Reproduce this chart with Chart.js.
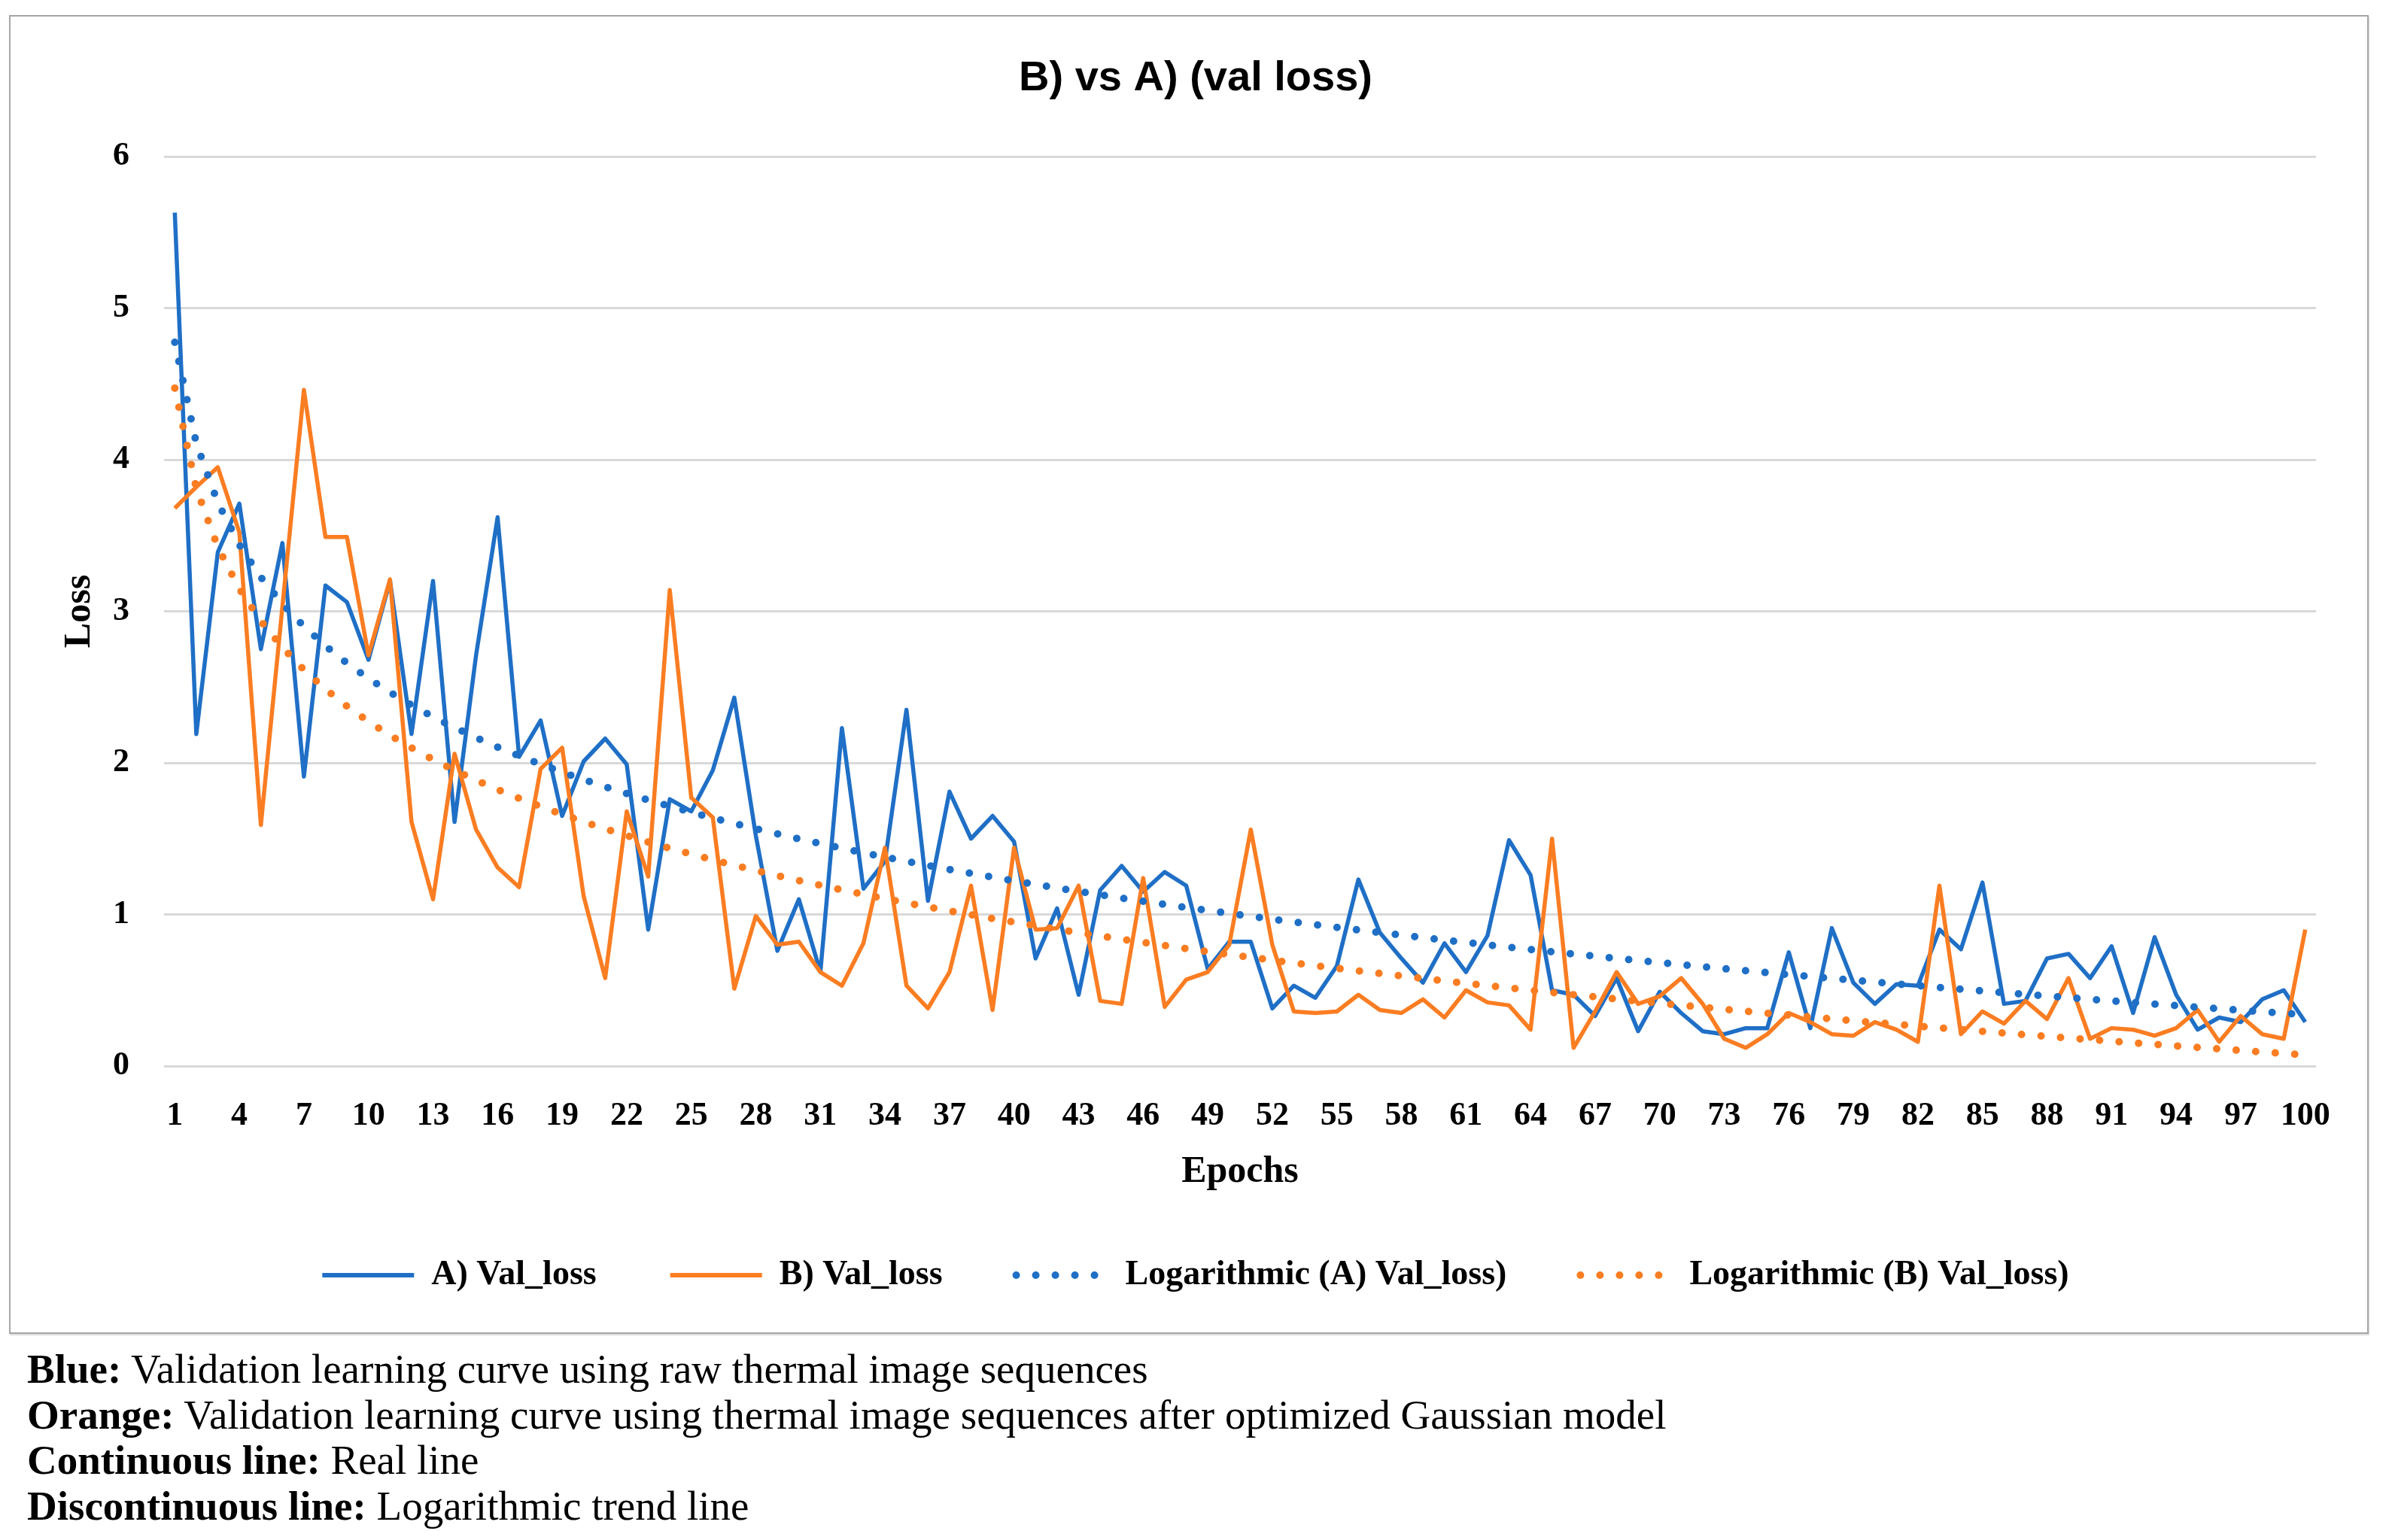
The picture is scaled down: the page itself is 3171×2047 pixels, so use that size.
<!DOCTYPE html>
<html>
<head>
<meta charset="utf-8">
<script src="https://cdn.jsdelivr.net/npm/chart.js@4.4.1/dist/chart.umd.min.js"></script>
<style>
  html, body { margin: 0; padding: 0; background: #fff; }
  body { width: 3171px; height: 2047px; position: relative; overflow: hidden; }
  #box {
    position: absolute; left: 12px; top: 20px;
    width: 3132px; height: 1749px;
    border: 2px solid #a6a6a6;
    box-shadow: 1px 2px 2px rgba(0,0,0,0.15);
  }
  #caption {
    position: absolute; left: 36px; top: 1790px;
    font-family: "Liberation Serif", serif; font-size: 55px; line-height: 60.6px;
    color: #000; white-space: nowrap;
  }
</style>
</head>
<body>
<div id="box"><canvas id="lossChart"></canvas></div>
<div id="caption">
  <div><b>Blue:</b> Validation learning curve using raw thermal image sequences</div>
  <div><b>Orange:</b> Validation learning curve using thermal image sequences after optimized Gaussian model</div>
  <div><b>Continuous line:</b> Real line</div>
  <div><b>Discontinuous line:</b> Logarithmic trend line</div>
</div>
<script>
const epochs = [
  1, 2, 3, 4, 5, 6, 7, 8, 9, 10, 11, 12, 13, 14, 15, 16, 17, 18, 19, 20,
  21, 22, 23, 24, 25, 26, 27, 28, 29, 30, 31, 32, 33, 34, 35, 36, 37, 38, 39, 40,
  41, 42, 43, 44, 45, 46, 47, 48, 49, 50, 51, 52, 53, 54, 55, 56, 57, 58, 59, 60,
  61, 62, 63, 64, 65, 66, 67, 68, 69, 70, 71, 72, 73, 74, 75, 76, 77, 78, 79, 80,
  81, 82, 83, 84, 85, 86, 87, 88, 89, 90, 91, 92, 93, 94, 95, 96, 97, 98, 99, 100
];

// A) raw thermal sequences
const valLossA = [
  5.63, 2.19, 3.39, 3.71, 2.75, 3.45, 1.91, 3.17, 3.06, 2.68,
  3.20, 2.19, 3.20, 1.61, 2.71, 3.62, 2.04, 2.28, 1.65, 2.01,
  2.16, 1.99, 0.90, 1.76, 1.68, 1.95, 2.43, 1.52, 0.76, 1.10,
  0.62, 2.23, 1.17, 1.35, 2.35, 1.09, 1.81, 1.50, 1.65, 1.48,
  0.71, 1.04, 0.47, 1.16, 1.32, 1.15, 1.28, 1.19, 0.64, 0.82,
  0.82, 0.38, 0.53, 0.45, 0.66, 1.23, 0.88, 0.71, 0.55, 0.81,
  0.62, 0.86, 1.49, 1.26, 0.50, 0.47, 0.33, 0.58, 0.23, 0.49,
  0.35, 0.23, 0.21, 0.25, 0.25, 0.75, 0.25, 0.91, 0.55, 0.41,
  0.54, 0.53, 0.90, 0.77, 1.21, 0.41, 0.43, 0.71, 0.74, 0.58,
  0.79, 0.35, 0.85, 0.47, 0.24, 0.32, 0.29, 0.44, 0.50, 0.29
];

// B) after optimized Gaussian model
const valLossB = [
  3.68, 3.82, 3.95, 3.52, 1.59, 3.03, 4.46, 3.49, 3.49, 2.71,
  3.21, 1.61, 1.10, 2.06, 1.56, 1.31, 1.18, 1.96, 2.10, 1.12,
  0.58, 1.68, 1.25, 3.14, 1.77, 1.64, 0.51, 0.99, 0.80, 0.82,
  0.62, 0.53, 0.81, 1.44, 0.53, 0.38, 0.62, 1.19, 0.37, 1.44,
  0.90, 0.91, 1.19, 0.43, 0.41, 1.24, 0.39, 0.57, 0.62, 0.80,
  1.56, 0.80, 0.36, 0.35, 0.36, 0.47, 0.37, 0.35, 0.44, 0.32,
  0.50, 0.42, 0.40, 0.24, 1.50, 0.12, 0.36, 0.62, 0.41, 0.46,
  0.58, 0.41, 0.18, 0.12, 0.21, 0.35, 0.29, 0.21, 0.20, 0.29,
  0.24, 0.16, 1.19, 0.21, 0.36, 0.28, 0.43, 0.31, 0.58, 0.18,
  0.25, 0.24, 0.20, 0.25, 0.37, 0.16, 0.33, 0.21, 0.18, 0.90
];

const yTicks = [0, 1, 2, 3, 4, 5, 6];

const blue = '#1f6fc6';
const orange = '#fa7d22';

// logarithmic trend line, least squares fit of y = a*ln(x) + b
function logTrend(xs, ys) {
  const lx = xs.map(x => Math.log(x));
  const n = xs.length;
  const mx = lx.reduce((s, v) => s + v, 0) / n;
  const my = ys.reduce((s, v) => s + v, 0) / n;
  let sxy = 0, sxx = 0;
  for (let i = 0; i < n; i++) {
    sxy += (lx[i] - mx) * (ys[i] - my);
    sxx += (lx[i] - mx) * (lx[i] - mx);
  }
  const a = sxy / sxx;
  const b = my - a * mx;
  return lx.map(v => a * v + b);
}

const serif = '"Liberation Serif", "Times New Roman", serif';
const dots = [0, 26];

new Chart('lossChart', {
  type: 'line',
  data: {
    labels: epochs,
    datasets: [
      { label: 'A) Val_loss', data: valLossA, borderColor: blue, borderWidth: 5.5, order: 3 },
      { label: 'B) Val_loss', data: valLossB, borderColor: orange, borderWidth: 5.5, order: 2 },
      { label: 'Logarithmic (A) Val_loss)', data: logTrend(epochs, valLossA), borderColor: blue,
        borderWidth: 10, borderDash: dots, borderCapStyle: 'round', order: 1 },
      { label: 'Logarithmic (B) Val_loss)', data: logTrend(epochs, valLossB), borderColor: orange,
        borderWidth: 10, borderDash: dots, borderCapStyle: 'round', order: 0 }
    ]
  },
  options: {
    responsive: true,
    maintainAspectRatio: false,
    devicePixelRatio: 1,
    animation: false,
    layout: { padding: { left: 86, right: 68, top: 0, bottom: 43 } },
    elements: {
      line: { tension: 0, fill: false, borderJoinStyle: 'round' },
      point: { radius: 0, hoverRadius: 0 }
    },
    plugins: {
      tooltip: { enabled: false },
      title: {
        display: true,
        text: 'B) vs A) (val loss)',
        color: '#000',
        font: { family: '"Liberation Sans Narrow", "Liberation Sans", sans-serif', size: 56, weight: 'bold' },
        padding: { top: 49.4, bottom: 69.4 }
      },
      legend: {
        position: 'bottom',
        labels: {
          usePointStyle: true,
          pointStyleWidth: 122,
          padding: 98,
          color: '#000',
          font: { family: serif, size: 46, weight: 'bold' },
          generateLabels(chart) {
            return chart.data.datasets.map((ds, i) => ({
              text: ds.label,
              datasetIndex: i,
              pointStyle: 'line',
              strokeStyle: ds.borderColor,
              fillStyle: ds.borderColor,
              lineWidth: ds.borderDash ? 10 : 6,
              lineDash: ds.borderDash || [],
              lineCap: ds.borderDash ? 'round' : 'butt',
              fontColor: '#000',
              hidden: false
            }));
          }
        }
      }
    },
    scales: {
      x: {
        type: 'category',
        offset: true,
        afterFit(scale) { scale.height = 157; },
        grid: { display: false, drawTicks: false },
        border: { display: false },
        ticks: {
          autoSkip: false,
          maxRotation: 0,
          padding: 40,
          color: '#000',
          font: { family: serif, size: 44, weight: 'bold' },
          callback(value, index) { return index % 3 === 0 ? this.getLabelForValue(value) : ''; }
        },
        title: {
          display: true,
          text: 'Epochs',
          color: '#000',
          font: { family: serif, size: 50, weight: 'bold' },
          padding: { top: 20, bottom: -14.2 }
        }
      },
      y: {
        min: 0,
        max: 6,
        afterBuildTicks(scale) { scale.ticks = yTicks.map(v => ({ value: v })); },
        afterFit(scale) { scale.width = 118; },
        grid: { color: '#d9d9d9', lineWidth: 3, drawTicks: false },
        border: { display: false },
        ticks: {
          padding: 46,
          color: '#000',
          font: { family: serif, size: 44, weight: 'bold' }
        },
        title: {
          display: true,
          text: 'Loss',
          color: '#000',
          font: { family: serif, size: 50, weight: 'bold' },
          padding: { top: -24, bottom: 0 }
        }
      }
    }
  }
});
</script>
</body>
</html>
